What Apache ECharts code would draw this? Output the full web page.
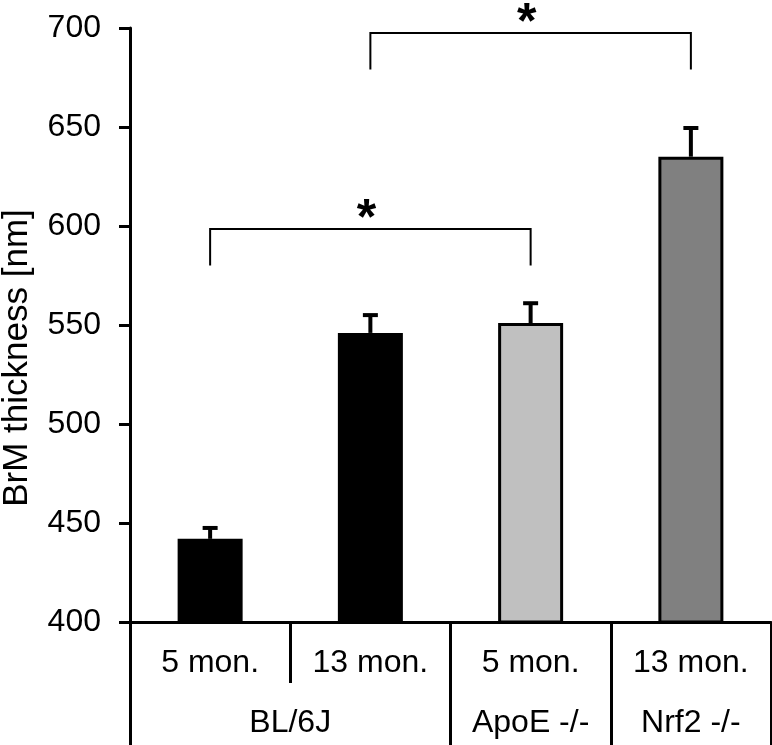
<!DOCTYPE html>
<html>
<head>
<meta charset="utf-8">
<script src="https://cdn.jsdelivr.net/npm/echarts@6/dist/echarts.min.js"></script>
<style>
html,body{margin:0;padding:0;background:#fff;}
#chart{width:772px;height:745px;}
</style>
</head>
<body>
<div id="chart"></div>
<script>
// ---- data ----
const categories = ['5 mon.', '13 mon.', '5 mon.', '13 mon.'];
const groups = ['BL/6J', 'ApoE -/-', 'Nrf2 -/-'];
const groupSizes = [2, 1, 1];
const means = [442, 546, 551, 635];
const errorsUp = [5.5, 9, 10, 14.5];
const yMin = 400, yMax = 700, yStep = 50;
const yTitle = 'BrM thickness [nm]';
const bracketFrom = [0, 1];
const bracketTo = [2, 3];
const bracketTop = [598.5, 697.5];
const bracketLeg = [580, 679];
const bracketMarks = ['*', '*'];

// ---- derived ----
const groupBounds = [0];
groupSizes.forEach(s => groupBounds.push(groupBounds[groupBounds.length - 1] + s));
const groupCenters = groupSizes.map((s, i) => groupBounds[i] + s / 2);
const errData = means.map((m, i) => [i, m, m + errorsUp[i]]);
const bracketData = bracketFrom.map((f, i) => [f, bracketTo[i], bracketTop[i], bracketLeg[i]]);

const FONT = "'Liberation Sans', Arial, Helvetica, sans-serif";
const fills = ['#000000', '#000000', '#c0c0c0', '#808080'];

const chart = echarts.init(document.getElementById('chart'), null, {renderer: 'canvas'});
chart.setOption({
  animation: false,
  backgroundColor: '#ffffff',
  grid: {left: 130, right: 1, top: 28, bottom: 123, containLabel: false, outerBoundsMode: 'none'},
  xAxis: [{
    type: 'category',
    data: categories,
    boundaryGap: true,
    axisLine: {show: true, lineStyle: {color: '#000', width: 3}},
    axisTick: {show: true, interval: 0, length: 61, lineStyle: {color: '#000', width: 3}},
    axisLabel: {interval: 0, color: '#000', fontSize: 32, fontFamily: FONT, margin: 25},
    splitLine: {show: false}
  }, {
    type: 'value',
    min: 0, max: groupBounds[groupBounds.length - 1],
    position: 'bottom',
    offset: 61,
    axisLine: {show: false},
    axisTick: {show: true, customValues: groupBounds, length: 62, lineStyle: {color: '#000', width: 3}},
    axisLabel: {
      show: true, customValues: groupCenters, color: '#000', fontSize: 32, fontFamily: FONT, margin: 24,
      formatter: v => { const k = groupCenters.indexOf(v); return k >= 0 ? groups[k] : ''; }
    },
    splitLine: {show: false}
  }],
  yAxis: {
    type: 'value',
    min: yMin, max: yMax, interval: yStep,
    name: yTitle,
    nameLocation: 'middle',
    nameRotate: 90,
    nameGap: 95,
    nameTextStyle: {color: '#000', fontSize: 35, fontFamily: FONT, padding: [0, 66, 0, 0]},
    axisLine: {show: true, lineStyle: {color: '#000', width: 3}},
    axisTick: {show: true, inside: false, length: 11, lineStyle: {color: '#000', width: 3}},
    axisLabel: {color: '#000', fontSize: 32, fontFamily: FONT, margin: 29},
    splitLine: {show: false}
  },
  series: [{
    type: 'bar',
    data: means,
    barWidth: 65,
    itemStyle: {
      color: p => fills[p.dataIndex],
      borderColor: '#000',
      borderWidth: 3
    },
    z: 2
  }, {
    type: 'custom',
    data: errData,
    encode: {x: 0, y: 2},
    z: 3,
    renderItem: (params, api) => {
      const x = api.value(0);
      const p0 = api.coord([x, api.value(1)]);
      const p1 = api.coord([x, api.value(2)]);
      const capHalf = 7.5;
      const st = {stroke: '#000', lineWidth: 4};
      return {type: 'group', children: [
        {type: 'line', shape: {x1: p0[0], y1: p0[1], x2: p1[0], y2: p1[1]}, style: st},
        {type: 'line', shape: {x1: p1[0] - capHalf, y1: p1[1], x2: p1[0] + capHalf, y2: p1[1]}, style: st}
      ]};
    }
  }, {
    type: 'custom',
    data: bracketData,
    encode: {x: [0, 1], y: [2, 3]},
    z: 3,
    renderItem: (params, api) => {
      const a = api.coord([api.value(0), api.value(2)]);
      const b = api.coord([api.value(1), api.value(2)]);
      const aL = api.coord([api.value(0), api.value(3)]);
      const bL = api.coord([api.value(1), api.value(3)]);
      const st = {stroke: '#000', lineWidth: 2, fill: null};
      return {type: 'group', children: [
        {type: 'polyline', shape: {points: [[aL[0], aL[1]], [a[0], a[1]], [b[0], b[1]], [bL[0], bL[1]]]}, style: st},
        {type: 'text', style: {
          text: bracketMarks[params.dataIndex],
          x: (a[0] + b[0]) / 2 - 4, y: a[1] - 9,
          textAlign: 'center', textVerticalAlign: 'middle',
          font: 'bold 50px ' + FONT, fill: '#000'
        }}
      ]};
    }
  }]
});
</script>
</body>
</html>
